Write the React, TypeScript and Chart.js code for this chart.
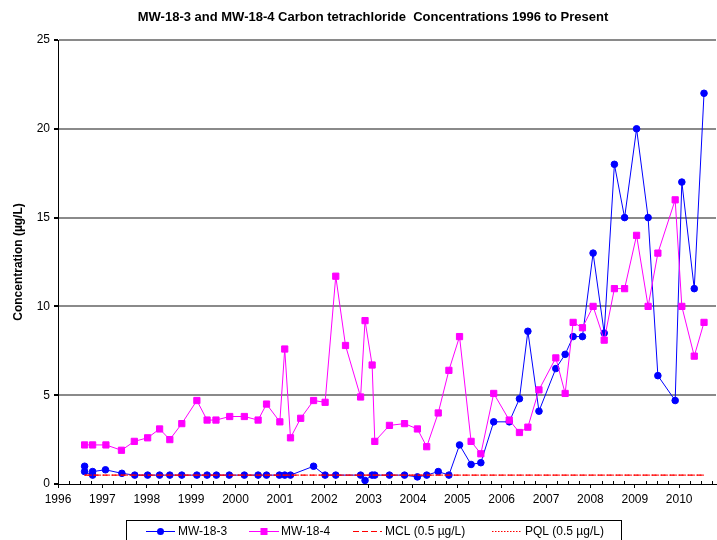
import { useEffect, useRef } from "react";
import { Chart, registerables } from "chart.js";

Chart.register(...registerables);

const chartTitle = "MW-18-3 and MW-18-4 Carbon tetrachloride  Concentrations 1996 to Present";
const yAxisTitle = "Concentration (µg/L)";

const yearTicks = [1996, 1997, 1998, 1999, 2000, 2001, 2002, 2003, 2004, 2005, 2006, 2007, 2008, 2009, 2010];
const yTicks = [0, 5, 10, 15, 20, 25];
const xMin = 1996;
const xMax = 2010.83;
const minorTickStep = 0.25;

const mw183Dates = [
  1996.6, 1996.6, 1996.78, 1996.78, 1997.07, 1997.44, 1997.73, 1998.02, 1998.29, 1998.52,
  1998.79, 1999.13, 1999.36, 1999.57, 1999.86, 2000.2, 2000.51, 2000.7, 2000.99, 2001.11,
  2001.24, 2001.76, 2002.02, 2002.26, 2002.82, 2002.92, 2003.08, 2003.14, 2003.47, 2003.81,
  2004.1, 2004.31, 2004.57, 2004.81, 2005.05, 2005.31, 2005.53, 2005.82, 2006.17, 2006.4,
  2006.59, 2006.84, 2007.22, 2007.43, 2007.61, 2007.82, 2008.06, 2008.31, 2008.54, 2008.77,
  2009.04, 2009.3, 2009.52, 2009.91, 2010.06, 2010.34, 2010.56,
];
const mw183Values = [
  1.0, 0.7, 0.5, 0.7, 0.8, 0.6, 0.5, 0.5, 0.5, 0.5,
  0.5, 0.5, 0.5, 0.5, 0.5, 0.5, 0.5, 0.5, 0.5, 0.5,
  0.5, 1.0, 0.5, 0.5, 0.5, 0.2, 0.5, 0.5, 0.5, 0.5,
  0.4, 0.5, 0.7, 0.5, 2.2, 1.1, 1.2, 3.5, 3.5, 4.8,
  8.6, 4.1, 6.5, 7.3, 8.3, 8.3, 13.0, 8.5, 18.0, 15.0,
  20.0, 15.0, 6.1, 4.7, 17.0, 11.0, 22.0,
];

const mw184Dates = [
  1996.6, 1996.78, 1997.08, 1997.43, 1997.72, 1998.02, 1998.29, 1998.52, 1998.79, 1999.13,
  1999.36, 1999.56, 1999.87, 2000.2, 2000.51, 2000.7, 2001.0, 2001.11, 2001.24, 2001.47,
  2001.76, 2002.02, 2002.26, 2002.48, 2002.82, 2002.92, 2003.08, 2003.14, 2003.47, 2003.81,
  2004.1, 2004.31, 2004.57, 2004.81, 2005.05, 2005.31, 2005.53, 2005.82, 2006.17, 2006.4,
  2006.59, 2006.84, 2007.22, 2007.43, 2007.61, 2007.82, 2008.06, 2008.31, 2008.54, 2008.77,
  2009.04, 2009.3, 2009.52, 2009.91, 2010.06, 2010.34, 2010.56,
];
const mw184Values = [
  2.2, 2.2, 2.2, 1.9, 2.4, 2.6, 3.1, 2.5, 3.4, 4.7,
  3.6, 3.6, 3.8, 3.8, 3.6, 4.5, 3.5, 7.6, 2.6, 3.7,
  4.7, 4.6, 11.7, 7.8, 4.9, 9.2, 6.7, 2.4, 3.3, 3.4,
  3.1, 2.1, 4.0, 6.4, 8.3, 2.4, 1.7, 5.1, 3.6, 2.9,
  3.2, 5.3, 7.1, 5.1, 9.1, 8.8, 10.0, 8.1, 11.0, 11.0,
  14.0, 10.0, 13.0, 16.0, 10.0, 7.2, 9.1,
];

const mclDates = [1996.6, 2010.56];
const mclValues = [0.5, 0.5];
const pqlDates = [1996.6, 2010.56];
const pqlValues = [0.5, 0.5];

const seriesLabels = ["MW-18-3", "MW-18-4", "MCL (0.5 µg/L)", "PQL (0.5 µg/L)"];

const BLUE = "#0000FF";
const MAGENTA = "#FF00FF";
const RED = "#FF0000";
const FONT = '"Liberation Sans", Arial, Helvetica, sans-serif';

const toPoints = (xs: number[], ys: number[]) => xs.map((x, i) => ({ x, y: ys[i] }));

const overlayPlugin = {
  id: "overlay",
  afterDraw(chart: any) {
    const { ctx, chartArea, scales } = chart;
    ctx.save();
    // title
    ctx.font = `bold 13px ${FONT}`;
    ctx.fillStyle = "#000";
    ctx.textAlign = "center";
    ctx.textBaseline = "middle";
    ctx.fillText(chartTitle, 373, 17);

    // minor ticks (inside) on the x axis
    const xs = scales.x;
    ctx.strokeStyle = "#000";
    ctx.lineWidth = 1;
    ctx.beginPath();
    const n = Math.round((xMax - xMin) / minorTickStep);
    for (let i = 1; i <= n; i++) {
      if (i % 4 === 0) continue;
      const v = xMin + i * minorTickStep;
      const px = Math.round(xs.getPixelForValue(v)) + 0.5;
      ctx.moveTo(px, chartArea.bottom);
      ctx.lineTo(px, chartArea.bottom - 3);
    }
    ctx.stroke();

    // legend
    const ly = 531.5;
    ctx.strokeStyle = "#000";
    ctx.lineWidth = 1;
    ctx.strokeRect(126.5, 520.5, 495, 40);
    ctx.font = `12px ${FONT}`;
    ctx.textAlign = "left";
    ctx.textBaseline = "middle";
    ctx.fillStyle = "#000";

    const items = [
      { x0: 146, x1: 175, color: BLUE, dash: [] as number[], marker: "circle", tx: 178 },
      { x0: 249, x1: 279, color: MAGENTA, dash: [] as number[], marker: "rect", tx: 281 },
      { x0: 353, x1: 382, color: RED, dash: [6, 3], marker: "", tx: 385 },
      { x0: 492, x1: 521, color: RED, dash: [1.5, 1.5], marker: "", tx: 525 },
    ];
    items.forEach((it, i) => {
      ctx.save();
      ctx.strokeStyle = it.color;
      ctx.lineWidth = 1;
      ctx.setLineDash(it.dash);
      ctx.beginPath();
      ctx.moveTo(it.x0, ly);
      ctx.lineTo(it.x1, ly);
      ctx.stroke();
      ctx.restore();
      const cx = (it.x0 + it.x1) / 2;
      ctx.fillStyle = it.color;
      if (it.marker === "circle") {
        ctx.beginPath();
        ctx.arc(cx, ly, 3.5, 0, Math.PI * 2);
        ctx.fill();
      } else if (it.marker === "rect") {
        ctx.fillRect(cx - 3.5, ly - 3.5, 7, 7);
      }
      ctx.fillStyle = "#000";
      ctx.fillText(seriesLabels[i], it.tx, ly + 0.5);
    });
    ctx.restore();
  },
};

export default function App() {
  const canvasRef = useRef<HTMLCanvasElement | null>(null);

  useEffect(() => {
    const canvas = canvasRef.current;
    if (!canvas) return;
    const chart = new Chart(canvas, {
      type: "scatter",
      data: {
        datasets: [
          {
            label: seriesLabels[3],
            data: toPoints(pqlDates, pqlValues),
            showLine: true,
            borderColor: RED,
            borderWidth: 1,
            borderDash: [1.5, 1.5],
            pointRadius: 0,
            order: 0,
          },
          {
            label: seriesLabels[2],
            data: toPoints(mclDates, mclValues),
            showLine: true,
            borderColor: RED,
            borderWidth: 1.2,
            borderDash: [6, 3],
            pointRadius: 0,
            order: 1,
          },
          {
            label: seriesLabels[1],
            data: toPoints(mw184Dates, mw184Values),
            showLine: true,
            borderColor: MAGENTA,
            backgroundColor: MAGENTA,
            pointBackgroundColor: MAGENTA,
            pointBorderColor: MAGENTA,
            borderWidth: 1,
            pointStyle: "rect",
            pointRadius: 4.4,
            pointBorderWidth: 1,
            order: 2,
          },
          {
            label: seriesLabels[0],
            data: toPoints(mw183Dates, mw183Values),
            showLine: true,
            borderColor: BLUE,
            backgroundColor: BLUE,
            pointBackgroundColor: BLUE,
            pointBorderColor: BLUE,
            borderWidth: 1,
            pointStyle: "circle",
            pointRadius: 3.3,
            pointBorderWidth: 1,
            order: 3,
          },
        ],
      },
      options: {
        animation: false,
        responsive: false,
        maintainAspectRatio: false,
        devicePixelRatio: 1,
        layout: { autoPadding: false, padding: { top: 40, right: 1, left: 0, bottom: 0 } },
        plugins: {
          legend: { display: false },
          title: { display: false },
          tooltip: { enabled: false },
        },
        scales: {
          x: {
            type: "linear",
            min: xMin,
            max: xMax,
            afterBuildTicks: (s: any) => {
              s.ticks = yearTicks.map((v) => ({ value: v }));
            },
            afterFit: (s: any) => {
              s.height = 56;
              s.paddingLeft = 0;
              s.paddingRight = 0;
            },
            ticks: {
              autoSkip: false,
              maxRotation: 0,
              padding: 4,
              color: "#000",
              font: { family: FONT, size: 12 },
              callback: (v: any) => String(v),
            },
            grid: {
              drawOnChartArea: false,
              drawTicks: true,
              tickLength: 4,
              tickColor: "#000",
              color: "#000",
            },
            border: { display: true, color: "#000", width: 1 },
          },
          y: {
            type: "linear",
            min: 0,
            max: 25,
            afterBuildTicks: (s: any) => {
              s.ticks = yTicks.map((v) => ({ value: v }));
            },
            afterFit: (s: any) => {
              s.width = 58;
              s.paddingTop = 0;
              s.paddingBottom = 0;
            },
            ticks: {
              padding: 4,
              color: "#000",
              font: { family: FONT, size: 12 },
              callback: (v: any) => String(v),
            },
            grid: {
              drawTicks: true,
              tickLength: 4,
              tickColor: "#000",
              lineWidth: 2,
              color: (c: any) => (c.tick && c.tick.value === 0 ? "rgba(0,0,0,0)" : "#8a8a8a"),
            },
            border: { display: true, color: "#000", width: 1 },
            title: {
              display: true,
              text: yAxisTitle,
              color: "#000",
              font: { family: FONT, size: 12, weight: "bold" },
              padding: { top: 11, bottom: 0 },
            },
          },
        },
      },
      plugins: [overlayPlugin],
    });
    return () => chart.destroy();
  }, []);

  return (
    <div style={{ position: "fixed", left: 0, top: 0, width: 717, height: 540, background: "#fff" }}>
      <canvas ref={canvasRef} width={717} height={540} style={{ display: "block" }} />
    </div>
  );
}
